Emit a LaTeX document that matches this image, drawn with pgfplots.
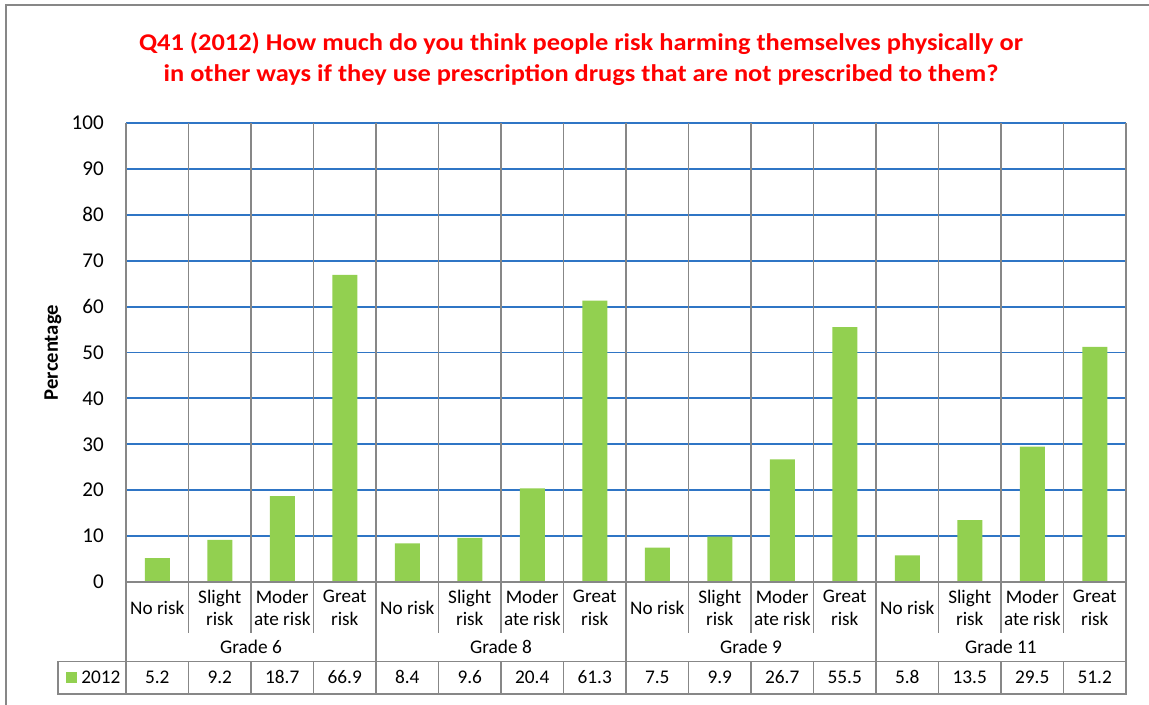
\documentclass[border=0pt]{standalone}
\usepackage{pgfplots}
\pgfplotsset{compat=1.18}
\usepackage{pgfplotstable}
\usepackage{fontspec}
\setmainfont{Carlito}
\newfontfamily\titlefont[FakeStretch=1.1]{Carlito}

\definecolor{bargreen}{HTML}{92D050}
\definecolor{gridblue}{HTML}{2F75C5}
\definecolor{cellgray}{HTML}{878787}

% x = category index (4 per grade), v = percentage
\pgfplotstableread{
x v
0 5.2
1 9.2
2 18.7
3 66.9
4 8.4
5 9.6
6 20.4
7 61.3
8 7.5
9 9.9
10 26.7
11 55.5
12 5.8
13 13.5
14 29.5
15 51.2
}\riskdata

\begin{document}
\begin{tikzpicture}
\path[use as bounding box] (0,0) rectangle (861.75pt,528.75pt);
\begin{axis}[
  at={(94.5pt,92.25pt)}, anchor=south west,
  scale only axis, width=750pt, height=344.25pt,
  xmin=-0.5, xmax=15.5, ymin=0, ymax=100,
  clip=false,
  axis line style={draw=none},
  ytick={0,10,...,100},
  ymajorgrids,
  major grid style={gridblue, line width=1.4pt},
  xtick={0,...,15},
  xticklabels={No risk,Slight\\risk,Moder\\ate risk,Great\\risk,
               No risk,Slight\\risk,Moder\\ate risk,Great\\risk,
               No risk,Slight\\risk,Moder\\ate risk,Great\\risk,
               No risk,Slight\\risk,Moder\\ate risk,Great\\risk},
  major tick length=0pt,
  xticklabel style={anchor=center, yshift=-19.5pt, align=center,
                    font=\fontsize{14.4}{16.8}\selectfont},
  yticklabel style={anchor=east, inner sep=0pt, xshift=-16.5pt,
                    font=\fontsize{15.8}{18}\selectfont},
  /pgf/number format/assume math mode=true,
]
  \addplot[ybar, bar width=0.4, fill=bargreen, draw=none]
    table[x=x, y=v] {\riskdata};
  % data table row under the chart
  \addplot[draw=none, mark=none, nodes near coords, point meta=explicit,
    every node near coord/.style={anchor=center, yshift=-71.6pt, black,
      font=\fontsize{14.5}{16}\selectfont}]
    table[x=x, y expr=0, meta=v] {\riskdata};
\end{axis}

\begin{scope}[x=0.75pt, y=-0.75pt, shift={(0,528.75pt)}]
  \draw[cellgray, line width=1.3pt] (6,705) -- (6,5) -- (1149,5);
  \begin{scope}[cellgray, line width=1.3pt]
    \draw (126,582) -- (1126,582);
    \foreach \k in {0,...,16} {
      \pgfmathsetmacro\xx{126+62.5*\k}
      \draw (\xx,123) -- (\xx,633);
      \draw (\xx,661.5) -- (\xx,694);
    }
    \foreach \k in {0,4,8,12,16} {
      \pgfmathsetmacro\xx{126+62.5*\k}
      \draw (\xx,582) -- (\xx,694);
    }
    \draw (58,661.5) rectangle (1126,694);
  \end{scope}
  \fill[bargreen] (66,672) rectangle (77,683);
  \node[anchor=west, inner sep=0pt, font=\fontsize{14.5}{16}\selectfont] at (81,677.5) {2012};
  \foreach \g/\xx in {6/251,8/501,9/751,11/1001}
    \node[font=\fontsize{14.5}{16}\selectfont] at (\xx,647) {Grade \g};
  \node[rotate=90, font=\bfseries\fontsize{15.5}{18}\selectfont] at (53,352.5) {Percentage};
  \node[align=center, text=red, font=\titlefont\bfseries\fontsize{18}{23.25}\selectfont] at (581,59.5)
    {Q41 (2012) How much do you think people risk harming themselves physically or\\
     in other ways if they use prescription drugs that are not prescribed to them?};
\end{scope}
\end{tikzpicture}
\end{document}
